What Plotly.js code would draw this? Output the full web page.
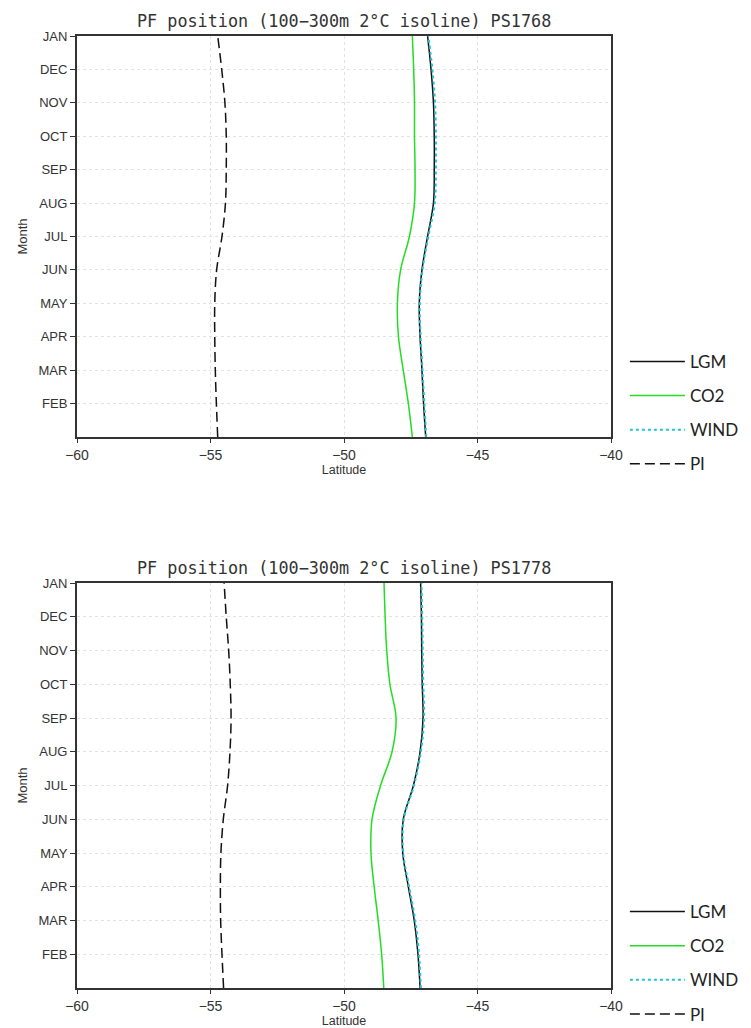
<!DOCTYPE html>
<html>
<head>
<meta charset="utf-8">
<script src="https://cdn.plot.ly/plotly-3.0.1.min.js"></script>
<style>html,body{margin:0;padding:0;background:#fff}#chart{width:751px;height:1028px}</style>
</head>
<body>
<div id="chart"></div>
<script>
// Month positions from bottom (JAN start) to top (JAN next)
const monthPos = [1, 2, 3, 4, 5, 6, 7, 8, 9, 10, 11, 12, 13];
const tickVals = [2, 3, 4, 5, 6, 7, 8, 9, 10, 11, 12, 13];
const tickText = ["FEB", "MAR", "APR", "MAY", "JUN", "JUL", "AUG", "SEP", "OCT", "NOV", "DEC", "JAN"];
const xTicks = [-60, -55, -50, -45, -40];

// PS1768 (top panel), latitude values bottom -> top
const lgm1768 = [-46.94, -47.02, -47.08, -47.15, -47.18, -47.08, -46.87, -46.65, -46.62, -46.62, -46.65, -46.74, -46.87];
const co2_1768 = [-47.44, -47.59, -47.78, -47.96, -48.00, -47.88, -47.55, -47.36, -47.34, -47.36, -47.36, -47.39, -47.44];
const wind1768 = [-46.92, -46.99, -47.06, -47.13, -47.16, -47.06, -46.84, -46.60, -46.56, -46.56, -46.59, -46.69, -46.84];
const pi1768 = [-54.73, -54.78, -54.82, -54.84, -54.84, -54.77, -54.57, -54.44, -54.41, -54.41, -54.46, -54.58, -54.73];

// PS1778 (bottom panel)
const lgm1778 = [-47.15, -47.23, -47.37, -47.59, -47.80, -47.78, -47.40, -47.15, -47.04, -47.07, -47.09, -47.10, -47.13];
const co2_1778 = [-48.51, -48.59, -48.72, -48.87, -48.99, -48.95, -48.63, -48.20, -48.05, -48.28, -48.40, -48.46, -48.50];
const wind1778 = [-47.12, -47.19, -47.33, -47.56, -47.78, -47.76, -47.38, -47.12, -47.00, -47.03, -47.05, -47.07, -47.10];
const pi1778 = [-54.51, -54.57, -54.62, -54.63, -54.61, -54.52, -54.36, -54.27, -54.23, -54.26, -54.32, -54.41, -54.49];

const seriesNames = ["LGM", "CO2", "WIND", "PI"];
const titles = ["PF position (100\u2212300m 2\u00B0C isoline) PS1768", "PF position (100\u2212300m 2\u00B0C isoline) PS1778"];

const styles = {
  LGM: {color: "#111111", width: 1.5, dash: "solid"},
  CO2: {color: "#22dd22", width: 1.5, dash: "solid"},
  WIND: {color: "#22c4d4", width: 2, dash: "dot"},
  PI: {color: "#111111", width: 1.5, dash: "10px,5px"}
};

function mk(x, name, xa, ya, leg) {
  return {
    x: x, y: monthPos, type: "scatter", mode: "lines", name: name,
    xaxis: xa, yaxis: ya, legend: leg, legendgroup: leg + name,
    line: Object.assign({shape: "spline", smoothing: 1}, styles[name])
  };
}

const data = [
  mk(lgm1768, "LGM", "x", "y", "legend"),
  mk(co2_1768, "CO2", "x", "y", "legend"),
  mk(wind1768, "WIND", "x", "y", "legend"),
  mk(pi1768, "PI", "x", "y", "legend"),
  mk(lgm1778, "LGM", "x2", "y2", "legend2"),
  mk(co2_1778, "CO2", "x2", "y2", "legend2"),
  mk(wind1778, "WIND", "x2", "y2", "legend2"),
  mk(pi1778, "PI", "x2", "y2", "legend2")
];

const tickFont = {family: "Liberation Sans, Arial, sans-serif", size: 13, color: "#333"};

function xax(anchor) {
  return {
    anchor: anchor, domain: [0, 1], range: [-60, -40], tickvals: xTicks,
    ticks: "outside", ticklen: 4, tickcolor: "#333", tickwidth: 1,
    showline: true, linecolor: "#333", linewidth: 2, mirror: true,
    showgrid: true, gridcolor: "#e2e2e2", griddash: "dot", gridwidth: 1,
    zeroline: false, tickfont: {family: "Liberation Sans, Arial, sans-serif", size: 14, color: "#333"},
    title: {text: "Latitude", font: {family: "Liberation Sans, Arial, sans-serif", size: 12.5, color: "#333"}, standoff: 0}
  };
}
function yax(anchor, dom) {
  return {
    anchor: anchor, domain: dom, range: [1, 13], tickvals: tickVals, ticktext: tickText,
    ticks: "outside", ticklen: 5, tickcolor: "#333", tickwidth: 1,
    showline: true, linecolor: "#333", linewidth: 2, mirror: true,
    showgrid: true, gridcolor: "#e2e2e2", griddash: "dot", gridwidth: 1,
    zeroline: false, tickfont: tickFont,
    title: {text: "Month", font: {family: "Liberation Sans, Arial, sans-serif", size: 13, color: "#333"}, standoff: 8}
  };
}

const legFont = {family: "Lato, Open Sans, sans-serif", size: 17, color: "#222"};
const topDom = [0.5788, 1];
const botDom = [0, 0.4254];

const layout = {
  width: 751, height: 1028,
  margin: {l: 77, r: 140, t: 36, b: 40, autoexpand: false},
  paper_bgcolor: "#fff", plot_bgcolor: "#fff",
  showlegend: true,
  xaxis: xax("y"), yaxis: yax("x", topDom),
  xaxis2: xax("y2"), yaxis2: yax("x2", botDom),
  legend: {x: 1.026, xanchor: "left", y: 0.6765, yanchor: "top", font: legFont, itemwidth: 55,
           tracegroupgap: 9, bgcolor: "rgba(0,0,0,0)", borderwidth: 0},
  legend2: {x: 1.026, xanchor: "left", y: 0.0987, yanchor: "top", font: legFont, itemwidth: 55,
            tracegroupgap: 9, bgcolor: "rgba(0,0,0,0)", borderwidth: 0},
  annotations: [
    {text: titles[0], xref: "paper", yref: "paper", x: 0.5, y: topDom[1], xanchor: "center", yanchor: "bottom", yshift: 3,
     showarrow: false, font: {family: "DejaVu Sans Mono, monospace", size: 16.8, color: "#333"}},
    {text: titles[1], xref: "paper", yref: "paper", x: 0.5, y: botDom[1], xanchor: "center", yanchor: "bottom", yshift: 3,
     showarrow: false, font: {family: "DejaVu Sans Mono, monospace", size: 16.8, color: "#333"}}
  ]
};

Plotly.newPlot("chart", data, layout, {displayModeBar: false, staticPlot: true});
</script>
</body>
</html>
